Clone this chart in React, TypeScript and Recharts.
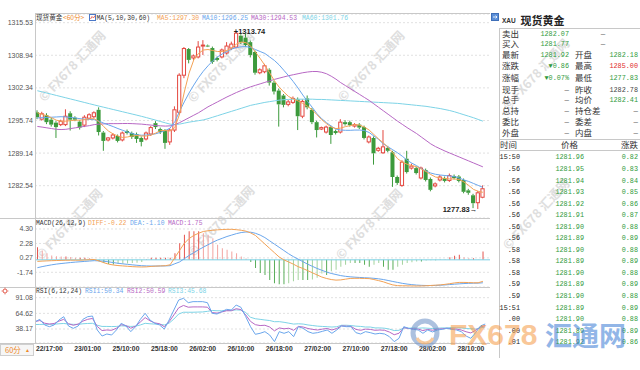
import React from 'react';
import { ComposedChart, Bar, Line, XAxis, YAxis, CartesianGrid, ReferenceLine, Cell } from 'recharts';

const openP = [1297.4,1296.0,1296.8,1295.9,1295.3,1294.9,1294.9,1297.2,1296.3,1295.5,
1294.8,1296.2,1296.5,1297.9,1293.3,1291.8,1292.2,1292.6,1291.8,1293.6,
1293.2,1293.0,1292.2,1292.0,1293.0,1295.2,1294.0,1293.8,1291.4,1293.8,
1297.4,1304.9,1310.2,1308.4,1308.6,1310.8,1310.9,1310.4,1308.4,1308.6,
1309.4,1310.4,1310.6,1312.9,1312.5,1311.6,1309.6,1305.4,1305.6,1306.0,
1303.4,1301.8,1300.8,1299.0,1299.4,1300.0,1296.6,1300.2,1297.9,1295.4,
1294.0,1293.4,1294.4,1293.6,1293.4,1295.4,1295.4,1294.6,1294.9,1294.4,
1291.4,1292.2,1289.7,1289.2,1290.2,1289.3,1284.3,1282.6,1288.0,1286.1,
1286.1,1284.1,1285.7,1283.9,1282.5,1283.7,1284.1,1283.6,1284.5,1284.4,
1283.7,1281.6,1280.6,1279.1,1280.2];
const highP = [1297.8,1297.5,1297.2,1296.3,1295.6,1295.9,1298.0,1297.6,1296.6,1295.8,
1296.8,1297.2,1297.6,1298.4,1293.6,1292.4,1293.2,1292.9,1293.5,1293.9,
1293.5,1293.3,1292.5,1293.5,1294.6,1295.6,1294.3,1294.0,1294.1,1298.6,
1305.3,1310.6,1310.4,1309.1,1311.8,1312.0,1311.1,1310.7,1308.7,1310.3,
1311.6,1311.7,1313.74,1313.2,1313.3,1311.9,1309.9,1306.3,1307.2,1306.3,
1303.8,1302.2,1301.1,1299.9,1300.6,1300.4,1300.0,1300.8,1298.3,1295.7,
1294.5,1294.7,1294.7,1293.9,1296.0,1295.8,1295.7,1295.2,1295.2,1294.7,
1292.7,1292.5,1290.4,1293.8,1290.6,1289.6,1284.6,1287.7,1289.6,1287.0,
1286.4,1286.4,1286.0,1284.2,1283.2,1284.7,1284.4,1285.0,1284.8,1284.7,
1284.0,1281.9,1280.9,1281.5,1282.6];
const lowP = [1296.0,1295.7,1295.0,1294.5,1292.2,1294.6,1294.6,1293.7,1295.6,1293.9,
1294.4,1296.0,1296.2,1292.7,1289.6,1291.5,1291.9,1291.3,1291.5,1292.9,
1292.0,1291.2,1290.5,1291.7,1292.6,1294.0,1293.0,1290.0,1290.8,1293.4,
1296.9,1304.3,1307.3,1308.0,1308.3,1309.0,1310.6,1307.2,1307.7,1308.3,
1309.1,1310.0,1310.3,1311.2,1310.6,1308.5,1305.0,1305.1,1305.3,1302.8,
1301.0,1294.5,1298.4,1298.6,1299.1,1293.8,1296.2,1298.0,1295.0,1292.3,
1293.8,1293.1,1291.0,1292.9,1293.1,1294.7,1294.5,1294.3,1294.0,1291.9,
1291.1,1286.8,1289.4,1289.0,1289.3,1282.3,1282.7,1282.3,1285.0,1285.8,
1284.8,1283.8,1283.4,1281.4,1282.2,1283.4,1283.2,1283.3,1283.8,1283.2,
1281.0,1280.7,1278.0,1277.83,1280.0];
const closeP = [1296.4,1297.1,1295.4,1294.9,1294.4,1295.6,1296.6,1295.9,1295.9,1294.3,
1296.4,1296.9,1297.3,1293.4,1291.6,1292.2,1292.8,1291.6,1293.2,1293.2,
1292.4,1292.0,1291.4,1293.2,1294.3,1294.4,1293.4,1291.2,1293.8,1297.9,
1304.9,1310.3,1308.0,1308.8,1310.6,1311.0,1310.8,1307.6,1308.0,1310.0,
1310.8,1311.2,1313.4,1311.6,1311.0,1309.0,1305.4,1306.0,1306.8,1303.4,
1301.6,1299.0,1298.9,1299.5,1300.2,1296.6,1299.6,1298.4,1295.4,1293.8,
1294.3,1294.4,1292.8,1293.2,1295.4,1295.0,1294.8,1294.9,1294.3,1292.2,
1292.4,1289.1,1290.1,1290.4,1289.6,1284.3,1283.1,1287.3,1285.3,1286.5,
1285.1,1286.1,1283.7,1281.7,1282.9,1284.3,1283.5,1284.6,1284.1,1283.5,
1281.3,1281.1,1279.0,1281.1,1281.92];

const ma5 = [1297.30,1297.0,1296.7,1296.3,1295.8,1295.6,1295.6,1295.7,1295.8,1295.8,
1295.9,1296.1,1296.1,1295.5,1294.5,1293.6,1293.0,1292.6,1292.3,1292.4,
1292.6,1292.7,1292.6,1292.6,1292.8,1293.2,1293.7,1293.7,1293.6,1294.3,
1297.0,1301.5,1305.3,1308.0,1309.3,1310.0,1310.1,1309.9,1309.7,1309.7,
1309.9,1310.4,1311.2,1311.6,1311.5,1310.8,1309.6,1308.3,1306.9,1305.4,
1303.8,1302.5,1301.5,1300.6,1300.1,1299.7,1299.2,1298.6,1297.9,1296.9,
1295.9,1295.1,1294.4,1294.1,1294.2,1294.5,1294.7,1294.9,1294.8,1294.4,
1293.8,1292.9,1292.0,1291.2,1290.3,1289.2,1288.0,1287.3,1286.9,1286.6,
1286.4,1285.9,1285.4,1284.8,1284.3,1284.1,1284.0,1283.9,1283.9,1283.8,
1283.3,1282.6,1281.8,1281.4,1281.2];
const ma10 = [1296.25,1296.3,1296.35,1296.4,1296.45,1296.5,1296.45,1296.35,1296.25,1296.1,
1296.0,1295.95,1295.9,1295.6,1295.2,1294.85,1294.5,1294.1,1293.75,1293.4,
1293.1,1292.85,1292.75,1292.8,1292.9,1293.05,1293.35,1293.7,1294.2,1295.5,
1297.6,1299.5,1301.3,1302.9,1304.4,1305.7,1306.8,1307.8,1308.6,1309.2,
1309.7,1310.2,1310.5,1310.65,1310.7,1310.5,1310.1,1309.7,1309.3,1308.6,
1307.9,1307.0,1305.9,1304.8,1303.6,1302.3,1300.9,1299.6,1298.4,1297.1,
1296.1,1295.3,1294.6,1294.0,1293.8,1293.75,1293.75,1293.8,1293.8,1293.7,
1293.3,1292.6,1291.9,1291.0,1290.4,1289.8,1289.2,1288.5,1287.7,1287.1,
1286.6,1286.0,1285.5,1285.1,1284.85,1284.7,1284.6,1284.5,1284.4,1284.1,
1283.7,1283.4,1283.0,1282.6,1282.2];
const ma30 = [1294.53,1294.4,1294.25,1294.1,1293.95,1293.9,1293.95,1294.1,1294.25,1294.4,
1294.55,1294.7,1294.9,1295.0,1295.05,1295.1,1295.1,1295.1,1295.12,1295.13,
1295.1,1295.05,1295.0,1294.9,1294.8,1294.7,1294.65,1294.6,1294.65,1294.9,
1295.3,1295.8,1296.3,1296.8,1297.3,1297.9,1298.5,1299.0,1299.5,1300.0,
1300.5,1300.95,1301.4,1301.8,1302.2,1302.55,1302.85,1303.15,1303.45,1303.75,
1304.05,1304.3,1304.55,1304.8,1305.0,1305.2,1305.4,1305.55,1305.65,1305.65,
1305.5,1305.2,1304.7,1304.1,1303.4,1302.8,1302.2,1301.6,1301.0,1300.4,
1299.8,1299.1,1298.4,1297.7,1297.0,1296.3,1295.6,1294.95,1294.3,1293.7,
1293.1,1292.4,1291.7,1291.0,1290.45,1290.0,1289.55,1289.15,1288.75,1288.35,
1287.95,1287.55,1287.15,1286.75,1286.35];
const ma60 = [1301.76,1301.53,1301.29,1301.05,1300.81,1300.57,1300.33,1300.09,1299.85,1299.61,
1299.37,1299.13,1298.89,1298.65,1298.42,1298.19,1297.96,1297.73,1297.5,1297.27,
1297.04,1296.81,1296.57,1296.32,1296.06,1295.8,1295.53,1295.26,1295.0,1294.9,
1295.0,1295.2,1295.4,1295.55,1295.7,1295.85,1296.1,1296.4,1296.7,1297.0,
1297.3,1297.6,1297.9,1298.2,1298.5,1298.8,1299.0,1299.2,1299.4,1299.55,
1299.7,1299.85,1299.95,1300.0,1300.05,1300.05,1300.05,1300.05,1300.05,1300.0,
1300.0,1299.95,1299.9,1299.85,1299.8,1299.75,1299.7,1299.65,1299.6,1299.55,
1299.5,1299.45,1299.4,1299.35,1299.3,1299.25,1299.2,1299.1,1299.0,1298.9,
1298.8,1298.7,1298.6,1298.45,1298.3,1298.15,1297.95,1297.75,1297.5,1297.2,
1296.9,1296.6,1296.3,1295.95,1295.6];

const diff = [-0.22,-0.18,-0.15,-0.12,-0.1,-0.08,-0.06,-0.05,-0.05,-0.05,
-0.02,0.02,0.05,-0.15,-0.4,-0.6,-0.72,-0.8,-0.85,-0.9,
-0.95,-0.98,-1.0,-0.98,-0.92,-0.88,-0.85,-0.82,-0.7,0.3,
1.3,2.3,2.96,3.4,3.7,3.95,4.05,4.12,4.18,4.22,
4.25,4.25,4.2,4.12,4.0,3.75,3.4,2.8,2.2,1.6,
1.0,0.4,0.0,-0.3,-0.6,-0.95,-1.2,-1.5,-1.8,-2.1,
-2.4,-2.6,-2.75,-2.83,-2.8,-2.7,-2.6,-2.58,-2.58,-2.6,
-2.62,-2.75,-2.9,-3.07,-3.3,-3.5,-3.6,-3.62,-3.63,-3.64,
-3.65,-3.64,-3.62,-3.58,-3.54,-3.5,-3.42,-3.33,-3.22,-3.15,
-3.15,-3.17,-3.2,-3.2,-3.0];
const dea = [-1.10,-0.95,-0.82,-0.7,-0.6,-0.52,-0.45,-0.38,-0.32,-0.27,
-0.22,-0.17,-0.12,-0.15,-0.2,-0.28,-0.38,-0.48,-0.56,-0.63,
-0.7,-0.76,-0.82,-0.85,-0.87,-0.87,-0.86,-0.85,-0.82,-0.55,
-0.3,0.15,0.6,1.0,1.4,1.75,2.1,2.45,2.75,3.0,
3.25,3.45,3.65,3.8,3.88,3.85,3.7,3.45,3.1,2.65,
2.2,1.75,1.3,0.85,0.45,0.1,-0.25,-0.6,-0.9,-1.2,
-1.45,-1.7,-1.9,-2.05,-2.2,-2.3,-2.37,-2.42,-2.46,-2.5,
-2.53,-2.58,-2.65,-2.75,-2.88,-3.02,-3.15,-3.28,-3.38,-3.46,
-3.52,-3.56,-3.58,-3.58,-3.57,-3.54,-3.5,-3.45,-3.4,-3.35,
-3.31,-3.28,-3.26,-3.25,-3.2];
const macdHist = [1.75,1.3,0.9,0.6,0.5,0.45,0.45,0.4,0.3,0.3,
0.3,0.25,0.1,-0.2,-0.45,-0.6,-0.65,-0.6,-0.55,-0.5,
-0.45,-0.4,-0.3,0.1,0.3,0.3,0.3,0.3,0.3,0.9,
2.3,3.5,4.0,4.0,4.0,3.7,3.5,3.0,2.1,1.6,
1.4,1.15,0.9,0.45,0.2,-0.3,-1.15,-1.85,-2.1,-2.8,
-3.25,-3.4,-3.4,-3.25,-3.0,-2.8,-2.8,-2.8,-2.75,-2.5,
-1.9,-2.1,-1.6,-1.4,-0.95,-0.7,-0.45,-0.45,-0.45,-0.7,
-0.95,-0.7,-0.45,-0.95,-1.4,-1.4,-0.95,-0.7,-0.45,-0.35,
-0.25,-0.25,-0.1,-0.05,-0.05,0.05,0.05,0.35,0.55,0.7,
0.37,0.23,0.23,0.05,1.16];

const rsi1 = [50.34,54.5,45.0,42.1,45.0,53.4,59.0,43.2,39.3,43.2,
54.5,59.0,60.1,36.5,26.3,29.7,28.0,36.5,47.8,43.2,
33.7,42.1,54.5,64.7,53.4,47.8,45.0,38.0,53.4,70.3,
87.2,90.0,82.7,84.4,84.4,84.4,82.7,64.7,63.5,67.5,
71.4,70.3,78.7,74.8,59.0,42.1,29.2,30.9,33.7,28.0,
16.8,33.7,30.9,33.7,25.2,42.1,39.3,33.7,30.9,32.0,
34.2,36.5,30.9,36.5,43.2,42.1,42.1,32.0,29.7,33.7,
32.0,29.7,30.9,29.7,25.2,16.8,22.4,42.1,39.3,37.6,
36.5,30.9,36.5,33.1,36.5,37.6,39.3,37.6,36.5,33.7,
26.3,22.4,32.0,43.2,46.6];
const rsi2 = [50.59,52.5,48.0,46.5,47.5,51.5,54.5,47.0,44.5,46.5,
51.5,54.5,56.0,42.5,35.5,36.5,36.0,39.5,45.5,44.0,
39.5,43.0,50.0,57.5,52.0,48.5,47.0,42.0,50.5,62.0,
74.0,78.0,75.0,75.5,75.5,75.5,75.0,66.0,65.0,67.0,
69.0,69.0,72.5,71.0,62.0,51.0,45.5,44.0,44.5,41.5,
35.0,40.0,38.5,39.5,36.0,42.5,41.5,39.0,37.5,36.5,
38.0,39.0,36.5,39.0,43.5,43.0,42.5,37.5,36.0,38.0,
37.5,36.0,36.5,36.0,33.0,28.5,31.0,40.5,39.0,38.5,
38.0,35.5,37.5,36.0,38.0,38.5,39.5,38.5,38.0,36.5,
33.5,31.5,36.0,41.5,44.0];
const rsi3 = [45.68,45.9,46.1,46.2,46.3,47.0,47.5,46.5,46.0,46.0,
47.0,47.5,47.8,44.5,42.5,42.5,42.3,42.5,43.5,43.2,
42.5,43.0,45.0,47.8,47.0,46.5,46.3,45.0,48.0,55.0,
63.5,66.5,66.5,66.5,66.8,67.0,68.0,69.5,69.0,69.0,
69.5,69.5,70.5,70.0,66.0,58.0,55.5,54.5,53.4,52.5,
50.5,50.6,49.5,48.0,46.5,47.0,46.5,45.0,44.0,43.0,
42.5,42.0,41.5,42.0,44.5,44.5,44.0,43.0,42.5,41.5,
41.5,40.0,40.0,39.5,38.0,35.5,36.0,40.0,39.5,40.0,
39.5,40.0,39.5,39.0,39.5,40.0,40.0,40.5,40.0,40.0,
39.0,38.5,38.0,40.0,41.5];

const tickLabels = ['22/17:00','23/01:00','25/10:00','25/18:00','26/02:00','26/10:00','26/18:00','27/02:00','27/10:00','27/18:00','28/02:00','28/10:00'];
const tickIdx = [3,11,19,27,35,43,51,59,67,75,83,91];

const mainTicks = [1282.54,1289.14,1295.74,1302.34,1308.94,1315.53];
const macdTicks = [4.30,2.28,0.27,-1.74];
const rsiTicks = [91.08,64.62,38.17];

const qLabelsL = ['卖出','买入','最新','涨跌','涨幅','现手','总手','总持','委比','外盘'];
const qValsL = ['1282.07','1281.77','1281.92','▼0.86','▼0.07%','–','–','–','–','–'];
const qLabelsR = ['','','开盘','最高','最低','昨收','均价','持仓差','委差','内盘'];
const qValsR = ['–','–','1282.18','1285.00','1277.83','1282.78','1282.41','–','–','–'];
const qColR = ['#555','#555','#2f9a3c','#e02a2a','#2f9a3c','#444','#2f9a3c','#555','#555','#555'];
const qRowY = [33.7,43.9,54.7,66.0,77.8,89.5,99.9,111.0,122.0,133.0];

const tTimes = ['15:50','.56','.56','.56','.56','.56','.56','.56','.58','.58','.58','.59','.59','15:51','.00','.00','.01'];
const tPrices = ['1281.96','1281.95','1281.94','1281.93','1281.92','1281.91','1281.90','1281.89','1281.90','1281.89','1281.90','1281.89','1281.90','1281.89','1281.90','1281.89','1281.92'];
const tChg = ['0.82','0.83','0.84','0.85','0.86','0.87','0.88','0.89','0.88','0.89','0.88','0.89','0.88','0.89','0.88','0.89','0.86'];

const SLOTS = 96;
const rows = Array.from({ length: SLOTS }, (_, i) => ({
  i,
  o: openP[i], h: highP[i], l: lowP[i], c: closeP[i],
  ma5: ma5[i], ma10: ma10[i], ma30: ma30[i], ma60: ma60[i],
  diff: diff[i], dea: dea[i], macd: macdHist[i],
  rsi1: rsi1[i], rsi2: rsi2[i], rsi3: rsi3[i],
}));
const hiIdx = highP.indexOf(Math.max(...highP));
const loIdx = lowP.indexOf(Math.min(...lowP));

const UP = '#e4473f';
const DOWN = '#3c9a3c';
const C_MA5 = '#f3a255';
const C_MA10 = '#6aa6ec';
const C_MA30 = '#b768c4';
const C_MA60 = '#7dd3e6';
const MONO = '"Liberation Mono", "DejaVu Sans Mono", monospace';
const SANS = '"Liberation Sans", Arial, sans-serif';
const CJK = '"Noto Sans CJK SC", "Noto Sans", sans-serif';
const GRID = '#e1e1e1';
const LINE = '#c8c8c8';

const Candle = (props: any) => {
  let { x, y, width, height } = props;
  const payload = props.payload;
  if (!payload || payload.o == null) return null;
  if (![x, y, width, height].every((v: any) => Number.isFinite(v))) return null;
  if (height < 0) { y = y + height; height = -height; }
  const { o, h, l, c, i } = payload;
  const cx = x + width / 2;
  const span = h - l || 1;
  const py = (v: number) => y + ((h - v) / span) * height;
  const up = c >= o;
  const top = py(Math.max(o, c));
  let bot = py(Math.min(o, c));
  if (bot - top < 1) bot = top + 1;
  const col = up ? UP : DOWN;
  return (
    <g>
      <line x1={cx} x2={cx} y1={y} y2={top} stroke={col} strokeWidth={1} />
      <line x1={cx} x2={cx} y1={bot} y2={y + height} stroke={col} strokeWidth={1} />
      {up ? (
        <rect x={cx - 1.6} y={top} width={3.2} height={bot - top} fill="#fff" stroke={col} strokeWidth={1} />
      ) : (
        <rect x={cx - 2} y={top} width={4} height={bot - top} fill={col} />
      )}
      {i === hiIdx && (
        <text x={cx - 2.3} y={y + 2.6} fontSize={7.5} fontWeight="bold" fontFamily={SANS} fill="#222">{'+' + h.toFixed(2)}</text>
      )}
      {i === loIdx && (
        <text x={cx - 0.5} y={y + height + 2.6} fontSize={7.5} fontWeight="bold" fontFamily={SANS} fill="#222" textAnchor="end">{l.toFixed(2) + '→'}</text>
      )}
    </g>
  );
};

const histColor = (i: number) => {
  const v = macdHist[i];
  const p = i > 0 ? macdHist[i - 1] : v;
  const grow = Math.abs(v) >= Math.abs(p);
  if (v >= 0) return grow ? '#e5554f' : '#f2a4a0';
  return grow ? '#58ad58' : '#a3d39d';
};

const yTick = { fontSize: 7, fill: '#555', fontFamily: SANS };

const wmPos = [[73,67],[222,68],[372,67],[537,75],[70,225],[222,222],[370,225],[537,215]];

export default function App() {
  return (
    <div style={{ position: 'absolute', left: 0, top: 0, width: 640, height: 370, background: '#fff', overflow: 'hidden' }}>
      <svg width={640} height={370} style={{ position: 'absolute', left: 0, top: 0 }}>
        {wmPos.map(([x, y], k) => (
          <text key={k} transform={`translate(${x},${y}) rotate(-47)`} textAnchor="middle" dominantBaseline="middle"
            fontSize={12.5} fontWeight="bold" fontFamily={CJK} fill="#dedede">© FX678 汇通网</text>
        ))}
      </svg>

      <div style={{ position: 'absolute', left: 0, top: 0 }}>
        <ComposedChart width={490} height={218} data={rows} margin={{ top: 14, right: 0, bottom: 0, left: 0 }}>
          <CartesianGrid vertical={false} stroke={GRID} strokeDasharray="2 2" />
          <XAxis dataKey="i" hide />
          <YAxis width={35} domain={[1276.0, 1317.29]} ticks={mainTicks} allowDataOverflow interval={0}
            tickLine={false} axisLine={false} tickSize={0} tickMargin={2} tick={yTick}
            tickFormatter={(v: number) => v.toFixed(2)} />
          <Line dataKey="ma60" type="linear" stroke={C_MA60} strokeWidth={1} dot={false} activeDot={false} isAnimationActive={false} />
          <Line dataKey="ma30" type="linear" stroke={C_MA30} strokeWidth={1} dot={false} activeDot={false} isAnimationActive={false} />
          <Bar dataKey={(d: any) => (d.h == null ? null : [d.l, d.h])} shape={Candle} barSize={4} isAnimationActive={false} />
          <Line dataKey="ma10" type="linear" stroke={C_MA10} strokeWidth={1} dot={false} activeDot={false} isAnimationActive={false} />
          <Line dataKey="ma5" type="linear" stroke={C_MA5} strokeWidth={1} dot={false} activeDot={false} isAnimationActive={false} />
        </ComposedChart>
      </div>

      <div style={{ position: 'absolute', left: 0, top: 218 }}>
        <ComposedChart width={490} height={69} data={rows} margin={{ top: 0, right: 0, bottom: 0, left: 0 }}>
          <CartesianGrid vertical={false} stroke={GRID} strokeDasharray="2 2" />
          <XAxis dataKey="i" hide />
          <YAxis width={35} domain={[-3.79, 5.83]} ticks={macdTicks} allowDataOverflow interval={0}
            tickLine={false} axisLine={false} tickSize={0} tickMargin={2} tick={yTick}
            tickFormatter={(v: number) => v.toFixed(2)} />
          <ReferenceLine y={0} stroke="#79d0e4" strokeWidth={1} />
          <Bar dataKey="macd" barSize={1} isAnimationActive={false}>
            {rows.map((r) => <Cell key={r.i} fill={r.macd == null ? 'none' : histColor(r.i)} />)}
          </Bar>
          <Line dataKey="dea" type="linear" stroke={C_MA10} strokeWidth={1} dot={false} activeDot={false} isAnimationActive={false} />
          <Line dataKey="diff" type="linear" stroke={C_MA5} strokeWidth={1} dot={false} activeDot={false} isAnimationActive={false} />
        </ComposedChart>
      </div>

      <div style={{ position: 'absolute', left: 0, top: 287 }}>
        <ComposedChart width={490} height={83} data={rows} margin={{ top: 0, right: 0, bottom: 0, left: 0 }}>
          <CartesianGrid vertical={false} stroke={GRID} strokeDasharray="2 2" />
          <XAxis dataKey="i" height={27} interval={0} tickLine={false} axisLine={false} tickSize={0} tickMargin={3}
            tick={{ fontSize: 6.8, fill: '#333', fontWeight: 'bold', fontFamily: SANS }}
            tickFormatter={(v: number) => { const k = tickIdx.indexOf(v); return k >= 0 ? tickLabels[k] : ''; }} />
          <YAxis width={35} domain={[14.5, 109.17]} ticks={rsiTicks} allowDataOverflow interval={0}
            tickLine={false} axisLine={false} tickSize={0} tickMargin={2} tick={yTick}
            tickFormatter={(v: number) => v.toFixed(2)} />
          <Line dataKey="rsi3" type="linear" stroke={C_MA60} strokeWidth={1} dot={false} activeDot={false} isAnimationActive={false} />
          <Line dataKey="rsi2" type="linear" stroke={C_MA30} strokeWidth={1} dot={false} activeDot={false} isAnimationActive={false} />
          <Line dataKey="rsi1" type="linear" stroke={C_MA10} strokeWidth={1} dot={false} activeDot={false} isAnimationActive={false} />
        </ComposedChart>
      </div>

      <svg width={640} height={370} style={{ position: 'absolute', left: 0, top: 0, pointerEvents: 'none' }}>
        <line x1={35} x2={490} y1={13.5} y2={13.5} stroke={LINE} />
        <line x1={35.5} x2={35.5} y1={13} y2={344} stroke={LINE} />
        <line x1={0} x2={490} y1={218.5} y2={218.5} stroke={LINE} />
        <line x1={0} x2={490} y1={287.5} y2={287.5} stroke={LINE} />
        <line x1={0} x2={490} y1={343.5} y2={343.5} stroke={LINE} />

        <text x={36} y={19.6} fontSize={6.6} fontFamily={CJK} fill="#333">现货黄金</text>
        <text x={63} y={19.6} fontSize={6.6} fontFamily={CJK} fill="#ee8a2a">{'<60分>'}</text>
        <rect x={89.5} y={14.5} width={6} height={6} fill="#fff" stroke="#4a78c8" />
        <polyline points="90.5,19 92,16.5 93.5,18 95,15.5" fill="none" stroke="#e04a3a" strokeWidth={0.8} />
        <text x={96.5} y={19.6} fontSize={6.4} fontFamily={MONO} fill="#333">MA(5,10,30,60)</text>
        <text x={157} y={19.6} fontSize={6.4} fontFamily={MONO} fill={C_MA5}>{'MA5:' + ma5[0].toFixed(2)}</text>
        <text x={202} y={19.6} fontSize={6.4} fontFamily={MONO} fill={C_MA10}>{'MA10:' + ma10[0].toFixed(2)}</text>
        <text x={251} y={19.6} fontSize={6.4} fontFamily={MONO} fill={C_MA30}>{'MA30:' + ma30[0].toFixed(2)}</text>
        <text x={302} y={19.6} fontSize={6.4} fontFamily={MONO} fill={C_MA60}>{'MA60:' + ma60[0].toFixed(2)}</text>

        <text x={36} y={224.6} fontSize={6.4} fontFamily={MONO} fill="#333">MACD(26,12,9)</text>
        <text x={88} y={224.6} fontSize={6.4} fontFamily={MONO} fill={C_MA5}>{'DIFF:' + diff[0].toFixed(2)}</text>
        <text x={130} y={224.6} fontSize={6.4} fontFamily={MONO} fill={C_MA10}>{'DEA:' + dea[0].toFixed(2)}</text>
        <text x={168} y={224.6} fontSize={6.4} fontFamily={MONO} fill={C_MA30}>{'MACD:' + macdHist[0].toFixed(2)}</text>

        <circle cx={5} cy={291} r={2} fill="none" stroke="#e04a3a" strokeWidth={0.9} />
        <path d="M5 287.6V288.6 M5 293.4V294.4 M1.6 291H2.6 M7.4 291H8.4" stroke="#e04a3a" strokeWidth={0.8} />
        <text x={36} y={293.2} fontSize={6.4} fontFamily={MONO} fill="#333">RSI(6,12,24)</text>
        <text x={85} y={293.2} fontSize={6.4} fontFamily={MONO} fill={C_MA10}>{'RSI1:' + rsi1[0].toFixed(2)}</text>
        <text x={127} y={293.2} fontSize={6.4} fontFamily={MONO} fill={C_MA30}>{'RSI2:' + rsi2[0].toFixed(2)}</text>
        <text x={168} y={293.2} fontSize={6.4} fontFamily={MONO} fill={C_MA60}>{'RSI3:' + rsi3[0].toFixed(2)}</text>

        <rect x={0.5} y={344.5} width={33} height={11} fill="#f6f6f6" stroke="#cfcfcf" />
        <text x={5} y={352.6} fontSize={7.5} fontFamily={CJK} fill="#ee8a2a">60分</text>
        <text x={25} y={352.4} fontSize={5} fontFamily={SANS} fill="#ee8a2a">▲</text>

        <rect x={491.5} y={13.5} width={7} height={7} fill="#5b8fd8" stroke="#3f6fb8" />
        <path d="M493 17H497 M495.6 15.6L497 17L495.6 18.4" stroke="#fff" strokeWidth={0.8} fill="none" />
        <text x={502} y={23} fontSize={6.5} fontWeight="bold" fontFamily={SANS} fill="#333">XAU</text>
        <text x={520.5} y={24.6} fontSize={11} fontWeight="bold" fontFamily={CJK} fill="#222">现货黄金</text>
        <line x1={499.5} x2={499.5} y1={28} y2={358} stroke={LINE} />
        <line x1={499} x2={640} y1={28.5} y2={28.5} stroke={LINE} />
        <line x1={499} x2={640} y1={139.5} y2={139.5} stroke={LINE} />
        <line x1={499} x2={640} y1={150.5} y2={150.5} stroke={LINE} />
        {qLabelsL.map((t, k) => (
          <text key={'ll' + k} x={502} y={qRowY[k] + 3} fontSize={8.5} fontFamily={CJK} fill="#333">{t}</text>
        ))}
        {qValsL.map((t, k) => (
          <text key={'lv' + k} x={569} y={qRowY[k] + 2.4} fontSize={k < 5 ? 6.8 : 8} fontFamily={k < 5 ? MONO : SANS}
            textAnchor="end" fill={k < 5 ? '#2f9a3c' : '#555'}>{t}</text>
        ))}
        {qLabelsR.map((t, k) => (
          t ? <text key={'rl' + k} x={575} y={qRowY[k] + 3} fontSize={8.5} fontFamily={CJK} fill="#333">{t}</text> : null
        ))}
        {qValsR.map((t, k) => (
          <text key={'rv' + k} x={k < 2 ? 603 : 638} y={qRowY[k] + 2.4} fontSize={t === '–' ? 8 : 6.8}
            fontFamily={t === '–' ? SANS : MONO} textAnchor={k < 2 ? 'middle' : 'end'} fill={qColR[k]}>{t}</text>
        ))}
        <text x={500} y={148} fontSize={8.5} fontFamily={CJK} fill="#333">时间</text>
        <text x={569.5} y={148} fontSize={8.5} fontFamily={CJK} fill="#333" textAnchor="middle">价格</text>
        <text x={638} y={148} fontSize={8.5} fontFamily={CJK} fill="#333" textAnchor="end">涨跌</text>
        {tTimes.map((t, k) => (
          <g key={'t' + k}>
            <text x={520} y={157 + 11.55 * k + 2.4} fontSize={6.8} fontFamily={MONO} fill="#222" textAnchor="end">{t}</text>
            <text x={584} y={157 + 11.55 * k + 2.4} fontSize={6.8} fontFamily={MONO} fill="#2f9a3c" textAnchor="end">{tPrices[k]}</text>
            <text x={638} y={157 + 11.55 * k + 2.4} fontSize={6.8} fontFamily={MONO} fill="#2f9a3c" textAnchor="end">{tChg[k]}</text>
          </g>
        ))}

        <g opacity={0.55}>
          <circle cx={425} cy={333} r={12} fill="none" stroke="#6a8fc6" strokeWidth={5} />
          <path d="M417 338 A9 9 0 0 0 433 338" fill="none" stroke="#f3a04e" strokeWidth={3} />
          <text x={449} y={345} fontSize={30} fontWeight="bold" fontFamily={SANS} fill="#f59a45">FX678</text>
          <text x={545} y={346} fontSize={27} fontWeight="bold" fontFamily={CJK} fill="#3a7bd5">汇通网</text>
        </g>
      </svg>
    </div>
  );
}
